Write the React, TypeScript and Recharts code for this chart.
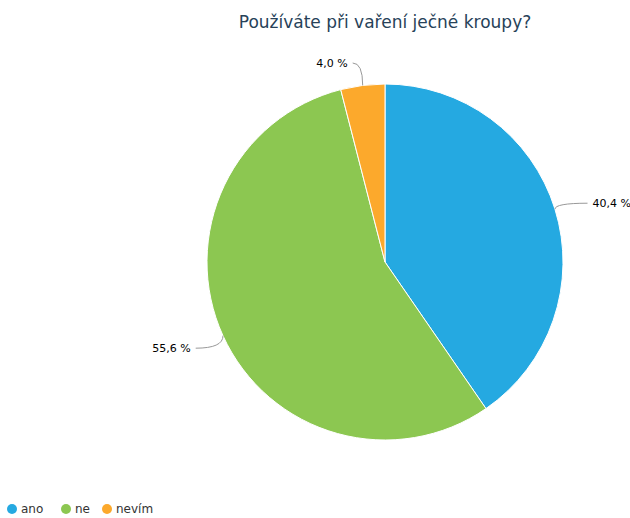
import React from 'react';
import { PieChart, Pie, Cell } from 'recharts';

const title = 'Používáte při vaření ječné kroupy?';
const categories = ['ano', 'ne', 'nevím'];
const values = [40.4, 55.6, 4.0];
const colors = ['#25a9e1', '#8cc751', '#fca92c'];

const data = categories.map((name, i) => ({ name, value: values[i] }));

const RAD = Math.PI / 180;

const renderLabel = (props: any) => {
  const { cx, cy, midAngle, outerRadius, index } = props;
  const r = outerRadius;
  const a = midAngle * RAD;
  const ex = cx + r * Math.cos(a);
  const ey = cy - r * Math.sin(a);
  const d = r + 30;
  let ly = cy - d * Math.sin(a);
  const minY = cy - r - 21;
  if (ly < minY) ly = minY;
  const right = Math.cos(a) >= 0;
  if (right) ly += 3;
  const dy = ly - cy;
  const dx = Math.sqrt(Math.max(d * d - dy * dy, 0));
  let lx = right ? cx + dx + 3 : cx - dx;
  if (Math.abs(Math.cos(a)) < 0.3) lx = right ? ex + 10 : ex - 10;
  const tx = right ? lx + 5 : lx - 5;
  const txt = values[index].toFixed(1).replace('.', ',') + ' %';
  return (
    <g key={`lbl-${index}`}>
      <path
        d={`M ${lx} ${ly} Q ${ex} ${ly} ${ex} ${ey}`}
        stroke="#999999"
        strokeWidth={1}
        fill="none"
      />
      <text
        x={tx}
        y={ly}
        dy={4}
        textAnchor={right ? 'start' : 'end'}
        fontFamily="DejaVu Sans"
        fontSize={11}
        fill="#000000"
      >
        {txt}
      </text>
    </g>
  );
};

export default function App() {
  return (
    <div style={{ position: 'absolute', left: 0, top: 0, width: 630, height: 518, background: '#ffffff' }}>
      <PieChart width={630} height={518} margin={{ top: 0, right: 0, bottom: 0, left: 0 }}>
        <text
          x={385}
          y={28}
          textAnchor="middle"
          fontFamily="DejaVu Sans"
          fontSize={17}
          fill="#274259"
        >
          {title}
        </text>
        <Pie
          data={data}
          dataKey="value"
          nameKey="name"
          cx={385}
          cy={262}
          outerRadius={178}
          startAngle={90}
          endAngle={-270}
          stroke="#ffffff"
          strokeWidth={1}
          label={renderLabel}
          labelLine={false}
          isAnimationActive={false}
        >
          {data.map((d, i) => (
            <Cell key={d.name} fill={colors[i]} />
          ))}
        </Pie>
        <g>
          {categories.map((c, i) => {
            const xs = [12, 66, 107];
            return (
              <g key={`lg-${c}`}>
                <circle cx={xs[i]} cy={509} r={5} fill={colors[i]} />
                <text
                  x={xs[i] + 9}
                  y={513}
                  fontFamily="DejaVu Sans"
                  fontSize={12}
                  fill="#333333"
                >
                  {c}
                </text>
              </g>
            );
          })}
        </g>
      </PieChart>
    </div>
  );
}
